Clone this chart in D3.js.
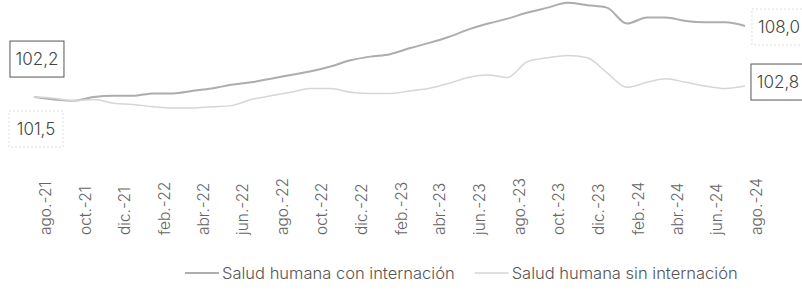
<!DOCTYPE html>
<html>
<head>
<meta charset="utf-8">
<script src="https://cdn.jsdelivr.net/npm/d3@7"></script>
<style>
  body { margin: 0; background: #fff; }
  text { font-family: "Inter", "Lato", sans-serif; font-weight: 300; fill: #555; }
</style>
</head>
<body>
<script>
/******************************************************************************/
/* DATA                                                                       */
/******************************************************************************/
// monthly index, jul-21 .. jul-24 (one value per month, plotted mid-month)
var firstMonth = new Date(2021, 6, 15);
var conInternacion = [
  102.2, 102.0, 101.9, 102.2, 102.3, 102.3, 102.5, 102.5, 102.7, 102.9,
  103.2, 103.4, 103.7, 104.0, 104.3, 104.7, 105.2, 105.5, 105.7, 106.2,
  106.6, 107.1, 107.7, 108.2, 108.6, 109.1, 109.5, 109.9, 109.7, 109.5,
  108.2, 108.7, 108.7, 108.4, 108.3, 108.3, 108.0
];
var sinInternacion = [
  102.2, 102.1, 101.9, 102.0, 101.7, 101.6, 101.4, 101.3, 101.3, 101.4,
  101.5, 102.0, 102.3, 102.6, 102.9, 102.9, 102.6, 102.5, 102.5, 102.7,
  102.9, 103.3, 103.8, 104.0, 103.8, 105.1, 105.4, 105.6, 105.4, 104.2,
  103.0, 103.4, 103.7, 103.4, 103.1, 102.9, 103.1
];
var tickLabels = [
  "ago.-21", "oct.-21", "dic.-21", "feb.-22", "abr.-22", "jun.-22", "ago.-22",
  "oct.-22", "dic.-22", "feb.-23", "abr.-23", "jun.-23", "ago.-23", "oct.-23",
  "dic.-23", "feb.-24", "abr.-24", "jun.-24", "ago.-24"
];
var seriesNames = ["Salud humana con internación", "Salud humana sin internación"];
var startLabels = ["102,2", "101,5"];
var endLabels = ["108,0", "102,8"];

/******************************************************************************/
/* GLOBAL                                                                     */
/******************************************************************************/
var width = 802;
var height = 293;
var colors = ["#adadad", "#d6d6d6"];

var months = d3.range(conInternacion.length).map(function(i) {
  return d3.timeMonth.offset(firstMonth, i);
});
var tickDates = tickLabels.map(function(d, i) {
  return d3.timeMonth.offset(new Date(2021, 7, 1), 2 * i);
});

var x = d3.scaleTime()
  .domain([new Date(2021, 7, 1), new Date(2024, 7, 1)])
  .range([45, 756]);
var y = d3.scaleLinear()
  .domain([100, 110])
  .range([124, 1.5]);

var svg = d3.select("body").append("svg")
  .attr("width", width)
  .attr("height", height);

/******************************************************************************/
/* AXIS                                                                       */
/******************************************************************************/
var xAxis = d3.axisBottom(x)
  .tickValues(tickDates)
  .tickSize(0)
  .tickFormat(function(d, i) { return tickLabels[i]; });

var gx = svg.append("g")
  .attr("transform", "translate(0,235)")
  .call(xAxis);
gx.select(".domain").remove();
gx.selectAll("text")
  .attr("y", 0)
  .attr("x", 0)
  .attr("dy", "0.35em")
  .attr("transform", "rotate(-90)")
  .style("text-anchor", "start")
  .style("font-size", "15.5px")
  .style("font-family", "Inter, Lato, sans-serif")
  .style("font-weight", 300)
  .style("fill", "#666");

/******************************************************************************/
/* LINES                                                                      */
/******************************************************************************/
var line = d3.line()
  .x(function(d, i) { return x(months[i]); })
  .y(function(d) { return y(d); })
  .curve(d3.curveMonotoneX);

[conInternacion, sinInternacion].forEach(function(s, k) {
  svg.append("path")
    .datum(s)
    .attr("d", line)
    .attr("fill", "none")
    .attr("stroke", colors[k])
    .attr("stroke-width", k === 0 ? 2 : 1.5);
});

/******************************************************************************/
/* LABELS                                                                     */
/******************************************************************************/
var x0 = x(months[0]);
var x1 = x(months[months.length - 1]);
var boxes = [
  {text: startLabels[0], cx: x0 + 3,  cy: y(conInternacion[0]) - 38, dark: true},
  {text: startLabels[1], cx: x0 + 2,  cy: y(sinInternacion[0]) + 32, dark: false},
  {text: endLabels[0],   cx: x1 + 34, cy: y(conInternacion[conInternacion.length - 1]) + 1, dark: false},
  {text: endLabels[1],   cx: x1 + 33, cy: y(sinInternacion[sinInternacion.length - 1]) - 4, dark: true}
];
var lab = svg.selectAll(".lab")
  .data(boxes)
  .enter().append("g")
  .attr("class", "lab")
  .attr("transform", function(d) { return "translate(" + d.cx + "," + d.cy + ")"; });
lab.append("rect")
  .attr("x", -27).attr("y", -18)
  .attr("width", 54).attr("height", 36)
  .attr("fill", "#fff")
  .attr("stroke", function(d) { return d.dark ? "#555" : "#ddd"; })
  .attr("stroke-dasharray", function(d) { return d.dark ? null : "2,2"; })
  .attr("stroke-width", 1);
lab.append("text")
  .attr("text-anchor", "middle")
  .attr("dy", "0.35em")
  .style("font-size", "17px")
  .style("fill", "#444")
  .text(function(d) { return d.text; });

/******************************************************************************/
/* LEGEND                                                                     */
/******************************************************************************/
var legend = svg.append("g").attr("transform", "translate(0,273)");
var lx = 185;
seriesNames.forEach(function(name, k) {
  legend.append("line")
    .attr("x1", lx).attr("x2", lx + 34)
    .attr("y1", 0).attr("y2", 0)
    .attr("stroke", colors[k])
    .attr("stroke-width", k === 0 ? 2 : 1.5);
  var t = legend.append("text")
    .attr("x", lx + 37)
    .attr("dy", "0.35em")
    .style("font-size", "16.5px")
    .text(name);
  lx = lx + 37 + t.node().getComputedTextLength() + 20;
});
</script>
</body>
</html>
